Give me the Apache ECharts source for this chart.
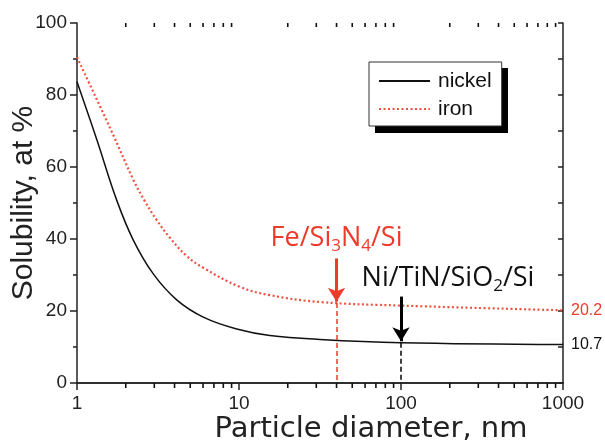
<!DOCTYPE html>
<html>
<head>
<meta charset="utf-8">
<script src="https://cdn.jsdelivr.net/npm/echarts@6/dist/echarts.min.js"></script>
<style>html,body{margin:0;padding:0;background:#fff}#c{width:605px;height:441px}</style>
</head>
<body>
<div id="c"></div>
<script>
// Particle diameter (nm) and solubility (at %)
var diamNickel = [1, 1.323, 1.758, 2.226, 2.958, 4.125, 6.02, 9.68, 15.5, 31.6, 100, 1000];
var nickel     = [83.7, 67.7, 50.8, 39.7, 30.3, 23.1, 18.3, 15.0, 13.2, 12.1, 11.2, 10.7];
var diamIron   = [1, 1.62, 2.23, 2.60, 3.10, 3.75, 4.75, 6.02, 10.14, 15.5, 31.6, 100, 1000];
var iron       = [90.5, 70.3, 56.4, 50.8, 45.3, 40.3, 35.3, 32.0, 26.7, 24.4, 22.5, 21.5, 20.2];

// annotated substrates: diameter, curve value at that diameter, arrow start value
var feMark = {d: 40, curve: 22.2, top: 34.6};
var niMark = {d: 100, curve: 11.2, top: 24.0};

// log-axis minor tick positions
var xMinorTicks = [2,3,4,5,6,7,8,9,20,30,40,50,60,70,80,90,200,300,400,500,600,700,800,900];

var RED = '#ee3a2a';
function pairs(xs, ys){ return xs.map(function(x,i){ return [x, ys[i]]; }); }

var chart = echarts.init(document.getElementById('c'), null, {renderer:'canvas'});
var axisLine = {show:true, lineStyle:{color:'#222', width:1.5}};
var baseX = {type:'log', logBase:10, min:1, max:1000, splitLine:{show:false}};

var legendShadow = {type:'rect', left:375, top:68, z:1, shape:{width:133, height:65}, style:{fill:'#000'}};

var option = {
  animation:false,
  backgroundColor:'#fff',
  grid:{left:77, right:42, top:23, bottom:58, containLabel:false, outerBoundsMode:'none'},
  legend:{
    orient:'vertical', left:369, top:62,
    padding:[8,10,6,9], itemGap:6, itemWidth:51, itemHeight:14,
    backgroundColor:'#fff', borderColor:'#333', borderWidth:1,
    itemStyle:{opacity:0, color:'rgba(0,0,0,0)', borderWidth:0},
    textStyle:{fontFamily:'Liberation Sans', fontSize:21, color:'#111', lineHeight:22, padding:[0,0,0,3]},
    data:['nickel','iron']
  },
  graphic:[legendShadow],
  xAxis:[
    Object.assign({}, baseX, {position:'bottom', axisLine:axisLine,
      axisTick:{show:true, inside:false, length:6, lineStyle:{color:'#222', width:1.5}},
      axisLabel:{show:true, margin:11, fontFamily:'Liberation Sans', fontSize:19, color:'#222',
        formatter:function(v){ return String(v); }},
      name:'Particle diameter, nm', nameLocation:'middle', nameGap:32, nameMoveOverlap:false,
      nameTextStyle:{fontFamily:'DejaVu Sans', fontSize:29, color:'#222', padding:[0,0,0,102]}}),
    Object.assign({}, baseX, {position:'top', axisLine:axisLine,
      axisTick:{show:true, inside:true, length:7, lineStyle:{color:'#222', width:1.5}},
      axisLabel:{show:false}})
  ],
  yAxis:[
    {type:'value', min:0, max:100, interval:20, position:'left', axisLine:axisLine,
     splitLine:{show:false},
     axisTick:{show:true, inside:false, length:7, lineStyle:{color:'#222', width:1.5}},
     minorTick:{show:true, splitNumber:2, length:4, lineStyle:{color:'#222', width:1.5}},
     axisLabel:{margin:10, fontFamily:'Liberation Sans', fontSize:19, color:'#222'},
     name:'Solubility, at %', nameLocation:'middle', nameGap:38, nameRotate:90, nameMoveOverlap:false,
     nameTextStyle:{fontFamily:'Liberation Sans', fontSize:30, color:'#222'}},
    {type:'value', min:0, max:100, interval:10, position:'right', axisLine:axisLine,
     splitLine:{show:false},
     axisTick:{show:true, inside:true, length:5, lineStyle:{color:'#222', width:1.5}},
     axisLabel:{show:false}}
  ],
  series:[
    {name:'nickel', type:'line', xAxisIndex:0, yAxisIndex:0, data:pairs(diamNickel, nickel),
     smooth:0.4, showSymbol:false, symbol:'none', z:3,
     lineStyle:{color:'#111', width:1.5}, itemStyle:{color:'#111'},
     endLabel:{show:true, distance:8, fontFamily:'Liberation Sans', fontSize:16, color:'#111',
       formatter:function(p){ return String(p.value[1]); }},
     markLine:{silent:true, symbol:['none','arrow'], symbolSize:[13,14], animation:false,
       label:{show:false},
       data:[
         [{coord:[niMark.d, niMark.top], lineStyle:{color:'#000', width:3, type:'solid'}},
          {coord:[niMark.d, niMark.curve + 0.4]}],
         [{coord:[niMark.d, niMark.curve], symbol:'none', lineStyle:{color:'#000', width:1.5, type:[5,3]}},
          {coord:[niMark.d, 0], symbol:'none'}]
       ]},
     markPoint:{silent:true, symbol:'circle', symbolSize:0, animation:false,
       data:[{coord:[niMark.d, niMark.top],
         label:{show:true, position:'top', distance:2, offset:[47,0],
           formatter:'Ni/TiN/SiO{s|2}/Si',
           fontFamily:'Open Sans', fontSize:27, color:'#111', lineHeight:32,
           rich:{s:{fontFamily:'Open Sans', fontSize:17, color:'#111', verticalAlign:'bottom', lineHeight:17}}}}]}
    },
    {name:'iron', type:'line', xAxisIndex:0, yAxisIndex:0, data:pairs(diamIron, iron),
     smooth:0.4, showSymbol:false, symbol:'none', z:3,
     lineStyle:{color:'#f0503f', width:2.2, type:[2,2.5]}, itemStyle:{color:RED},
     endLabel:{show:true, distance:8, fontFamily:'Liberation Sans', fontSize:16, color:RED,
       formatter:function(p){ return String(p.value[1]); }},
     markLine:{silent:true, symbol:['none','arrow'], symbolSize:[13,14], animation:false,
       label:{show:false},
       data:[
         [{coord:[feMark.d, feMark.top], lineStyle:{color:RED, width:3, type:'solid'}},
          {coord:[feMark.d, feMark.curve + 0.4]}],
         [{coord:[feMark.d, feMark.curve], symbol:'none', lineStyle:{color:RED, width:1.5, type:[5,3]}},
          {coord:[feMark.d, 0], symbol:'none'}]
       ]},
     markPoint:{silent:true, symbol:'circle', symbolSize:0, animation:false,
       data:[{coord:[feMark.d, feMark.top],
         label:{show:true, position:'top', distance:4, offset:[0,0],
           formatter:'Fe/Si{s|3}N{s|4}/Si',
           fontFamily:'Open Sans', fontSize:27, color:RED, lineHeight:32,
           rich:{s:{fontFamily:'Open Sans', fontSize:17, color:RED, verticalAlign:'bottom', lineHeight:17}}}}]}
    }
  ]
};
chart.setOption(option);

// minor ticks of the log axis on the bottom (outward) and top (inward) frame lines,
// positioned through the chart's own log scale
var tickGraphics = [legendShadow];
xMinorTicks.forEach(function(v){
  var pb = chart.convertToPixel({xAxisIndex:0, yAxisIndex:0}, [v, 0]);
  var pt = chart.convertToPixel({xAxisIndex:0, yAxisIndex:0}, [v, 100]);
  var st = {stroke:'#111', lineWidth:1.6};
  tickGraphics.push({type:'line', zlevel:1, z:100, silent:true, shape:{x1:pb[0], y1:pb[1], x2:pb[0], y2:pb[1] + 5}, style:st});
  tickGraphics.push({type:'line', zlevel:1, z:100, silent:true, shape:{x1:pt[0], y1:pt[1], x2:pt[0], y2:pt[1] + 4}, style:st});
});
chart.setOption({graphic:tickGraphics});
</script>
</body>
</html>
